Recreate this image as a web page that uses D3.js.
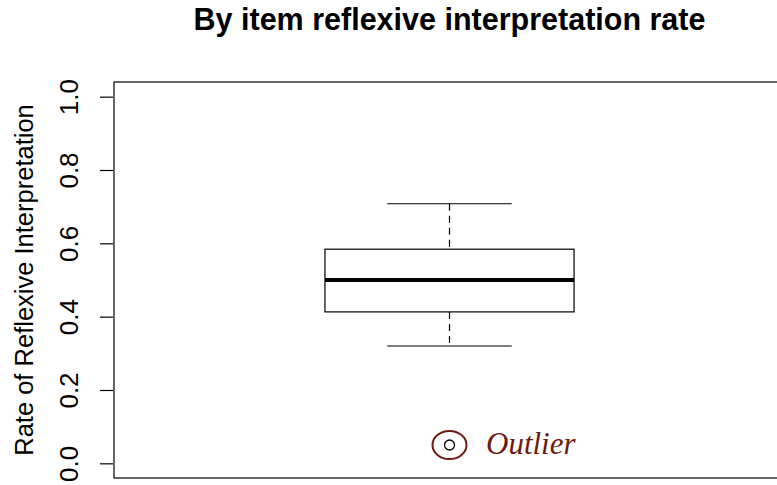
<!DOCTYPE html>
<html>
<head>
<meta charset="utf-8">
<script src="https://cdn.jsdelivr.net/npm/d3@7"></script>
<style>
  body { margin: 0; background: #fff; }
  svg { font-family: "Liberation Sans", Arial, sans-serif; }
</style>
</head>
<body>
<div id="chart"></div>
<script>
// box summary
var stats = {lower: 0.32, q1: 0.413, median: 0.50, q3: 0.584, upper: 0.708};
var outliers = [0.05];
var yTicks = [0.0, 0.2, 0.4, 0.6, 0.8, 1.0];
var titleText = "By item reflexive interpretation rate";
var yLabel = "Rate of Reflexive Interpretation";
var noteText = "Outlier";

var W = 777, H = 485;
var plot = {left: 114, right: 785, top: 82, bottom: 478};

var svg = d3.select("#chart").append("svg")
    .attr("width", W)
    .attr("height", H);

var y = d3.scaleLinear()
    .domain([-0.04, 1.04])
    .range([plot.bottom, plot.top]);

var x = d3.scaleLinear()
    .domain([-0.0775, 2.0775])
    .range([plot.left, plot.right]);

var boxHalf = 0.4, capHalf = 0.2;

// frame
svg.append("rect")
    .attr("x", plot.left)
    .attr("y", plot.top)
    .attr("width", plot.right - plot.left)
    .attr("height", plot.bottom - plot.top)
    .attr("fill", "none")
    .attr("stroke", "#000")
    .attr("stroke-width", 1.2);

// y axis
var yAxis = d3.axisLeft(y)
    .tickValues(yTicks)
    .tickFormat(d3.format(".1f"))
    .tickSize(13);

var ag = svg.append("g")
    .attr("transform", "translate(" + (plot.left - 1) + ",0)")
    .call(yAxis);
ag.select(".domain").remove();
ag.selectAll(".tick line").attr("stroke-width", 1.2);
ag.selectAll(".tick text")
    .attr("x", 0)
    .attr("dy", 0)
    .attr("transform", "translate(-35,0) rotate(-90)")
    .style("text-anchor", "middle")
    .style("font-size", "26px")
    .style("font-family", "Liberation Sans, Arial, sans-serif")
    .attr("fill", "#000");

svg.append("text")
    .attr("transform", "translate(33," + y(0.5) + ") rotate(-90)")
    .style("text-anchor", "middle")
    .style("font-size", "25.5px")
    .text(yLabel);

// title
svg.append("text")
    .attr("x", x(1))
    .attr("y", 30)
    .style("text-anchor", "middle")
    .style("font-size", "30.5px")
    .style("font-weight", "bold")
    .text(titleText);

// whiskers
var g = svg.append("g");
g.append("line")
    .attr("x1", x(1)).attr("x2", x(1))
    .attr("y1", y(stats.upper)).attr("y2", y(stats.q3))
    .attr("stroke", "#000").attr("stroke-width", 1.2)
    .attr("stroke-dasharray", "7,5");
g.append("line")
    .attr("x1", x(1)).attr("x2", x(1))
    .attr("y1", y(stats.q1)).attr("y2", y(stats.lower))
    .attr("stroke", "#000").attr("stroke-width", 1.2)
    .attr("stroke-dasharray", "7,5");

[stats.upper, stats.lower].forEach(function(v){
  g.append("line")
    .attr("x1", x(1 - capHalf)).attr("x2", x(1 + capHalf))
    .attr("y1", y(v)).attr("y2", y(v))
    .attr("stroke", "#000").attr("stroke-width", 1.2);
});

// box
g.append("rect")
    .attr("x", x(1 - boxHalf))
    .attr("y", y(stats.q3))
    .attr("width", x(1 + boxHalf) - x(1 - boxHalf))
    .attr("height", y(stats.q1) - y(stats.q3))
    .attr("fill", "#fff")
    .attr("stroke", "#000")
    .attr("stroke-width", 1.2);

g.append("line")
    .attr("x1", x(1 - boxHalf)).attr("x2", x(1 + boxHalf))
    .attr("y1", y(stats.median)).attr("y2", y(stats.median))
    .attr("stroke", "#000").attr("stroke-width", 4);

// outlier points
g.selectAll(".out")
    .data(outliers)
    .enter()
    .append("circle")
    .attr("class", "out")
    .attr("cx", x(1))
    .attr("cy", function(d){ return y(d); })
    .attr("r", 5)
    .attr("fill", "none")
    .attr("stroke", "#000")
    .attr("stroke-width", 1.3);

// annotation ring + label
var noteColor = "#6e1a12";
g.selectAll(".ring")
    .data(outliers)
    .enter()
    .append("ellipse")
    .attr("class", "ring")
    .attr("cx", x(1))
    .attr("cy", function(d){ return y(d); })
    .attr("rx", 17)
    .attr("ry", 14)
    .attr("fill", "none")
    .attr("stroke", noteColor)
    .attr("stroke-width", 2);

g.append("text")
    .attr("x", 486)
    .attr("y", y(outliers[0]) + 9)
    .style("font-family", "Liberation Serif, 'Times New Roman', serif")
    .style("font-style", "italic")
    .style("font-size", "31px")
    .attr("fill", noteColor)
    .text(noteText);
</script>
</body>
</html>
